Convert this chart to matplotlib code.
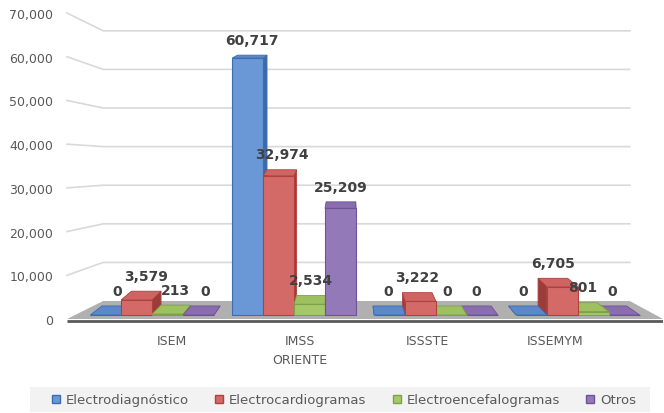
import matplotlib.pyplot as plt
from matplotlib.patches import Polygon, Patch, Rectangle
from matplotlib.transforms import Affine2D

categories = ['ISEM', 'IMSS\nORIENTE', 'ISSSTE', 'ISSEMYM']
series = ['Electrodiagnóstico', 'Electrocardiogramas', 'Electroencefalogramas', 'Otros']
electrodiagnostico = [0, 60717, 0, 0]
electrocardiogramas = [3579, 32974, 3222, 6705]
electroencefalogramas = [213, 2534, 0, 801]
otros = [0, 25209, 0, 0]
values = [electrodiagnostico, electrocardiogramas, electroencefalogramas, otros]
yticks = [0, 10000, 20000, 30000, 40000, 50000, 60000, 70000]

front_colors = ['#6A98D6', '#D46A67', '#A5C86A', '#9479B8']
top_colors = ['#5A88C8', '#CF6562', '#9DC060', '#8A6DAF']
side_colors = ['#3F6AA5', '#9A3C3A', '#7B9A44', '#644C88']
edge_colors = ['#3D6CB0', '#B0403D', '#7FA044', '#6E5494']

# fake 3d geometry (x in category units, y in value units of the front plane)
W = 0.218
WALL_Y0, WALL_K = 4118, 0.883
WALL_X = (-0.345, 3.366)
BAR_Y0, BAR_K = 915, 0.9677
XV, KX = 1.394, 0.045
YV, KY = 89453, 0.0233


def back(x, y):
    return x + KX * (XV - x), y + KY * (YV - y)


fig = plt.figure(figsize=(6.64, 4.14), dpi=100)
ax = fig.add_axes([67 / 664, 74 / 414, 596 / 664, 340 / 414])
ax.set_xlim(-0.6, 3.6)
ax.set_ylim(-4576, 73210)
for s in ax.spines.values():
    s.set_visible(False)
ax.set_xticks([])
ax.set_yticks(yticks)
ax.set_yticklabels([f'{t:,}' for t in yticks])
ax.tick_params(axis='y', length=0, pad=10, labelsize=9, labelcolor='#595959')

# back wall + side wall gridlines
for t in yticks[1:]:
    wy = WALL_Y0 + WALL_K * t
    ax.plot([-0.6, WALL_X[0], WALL_X[1]], [t, wy, wy], color='#D9D9D9', lw=1.2, zorder=1, clip_on=False)

# floor
ax.add_patch(Polygon([(-0.6, 0), (WALL_X[0], WALL_Y0), (WALL_X[1], WALL_Y0), (3.6, 0)],
                     closed=True, facecolor='#B0B0B0', edgecolor='none', zorder=2))
ax.plot([-0.6, 3.6], [-400, -400], color='#595959', lw=2, zorder=2, solid_capstyle='butt')

plane = Affine2D().scale(1, BAR_K).translate(0, BAR_Y0) + ax.transData
bars = []
for j, vals in enumerate(values):
    xs = [i + (j - 1.5) * W for i in range(len(categories))]
    bc = ax.bar(xs, vals, width=W, bottom=0, transform=plane,
                facecolor=front_colors[j], edgecolor=edge_colors[j], linewidth=0.8)
    for i, r in enumerate(bc.patches):
        bars.append((r, j, vals[i]))

# paint order: towards the vanishing point from both sides
left = sorted([b for b in bars if b[0].get_x() + W / 2 < XV], key=lambda b: b[0].get_x())
right = sorted([b for b in bars if b[0].get_x() + W / 2 >= XV], key=lambda b: -b[0].get_x())
z = 3.0
for r, j, v in left + right:
    x0 = r.get_x()
    x1 = x0 + r.get_width()
    y0 = BAR_Y0
    y1 = BAR_Y0 + BAR_K * v
    tl, tr = (x0, y1), (x1, y1)
    top = [tl, tr, back(*tr), back(*tl)]
    if (x0 + x1) / 2 < XV:
        side = [(x1, y0), tr, back(*tr), back(x1, y0)]
    else:
        side = [(x0, y0), tl, back(*tl), back(x0, y0)]
    ax.add_patch(Polygon(side, closed=True, facecolor=side_colors[j], edgecolor=edge_colors[j], lw=0.6, zorder=z))
    ax.add_patch(Polygon(top, closed=True, facecolor=top_colors[j], edgecolor=edge_colors[j], lw=0.6, zorder=z + 0.001))
    r.set_zorder(z + 0.002)
    z += 0.01
    lx, ly = back((x0 + x1) / 2, y1)
    ax.annotate(f'{v:,}', xy=(lx, ly), xytext=(0, 11), textcoords='offset points',
                ha='center', va='center', fontsize=10, fontweight='bold', color='#404040', zorder=20)

for i, c in enumerate(categories):
    ax.annotate(c, xy=(XV + (i - XV) * 0.9, 0), xytext=(0, -11), textcoords='offset points',
                ha='center', va='top', fontsize=9, color='#595959', linespacing=1.6, annotation_clip=False)

# legend
fig.patches.append(Rectangle((30 / 664, 1 - 413 / 414), 620 / 664, 25 / 414,
                             transform=fig.transFigure, facecolor='#F2F2F2', edgecolor='none', zorder=0))
handles = [Patch(facecolor=front_colors[j], edgecolor=edge_colors[j]) for j in range(len(series))]
fig.legend(handles, series, loc='center', bbox_to_anchor=(344 / 664, 1 - 401 / 414), ncol=4,
           frameon=False, fontsize=9.5, labelcolor='#595959', handlelength=0.6, handleheight=0.6,
           handletextpad=0.45, columnspacing=2.0)

fig.savefig('out.png', dpi=100)
